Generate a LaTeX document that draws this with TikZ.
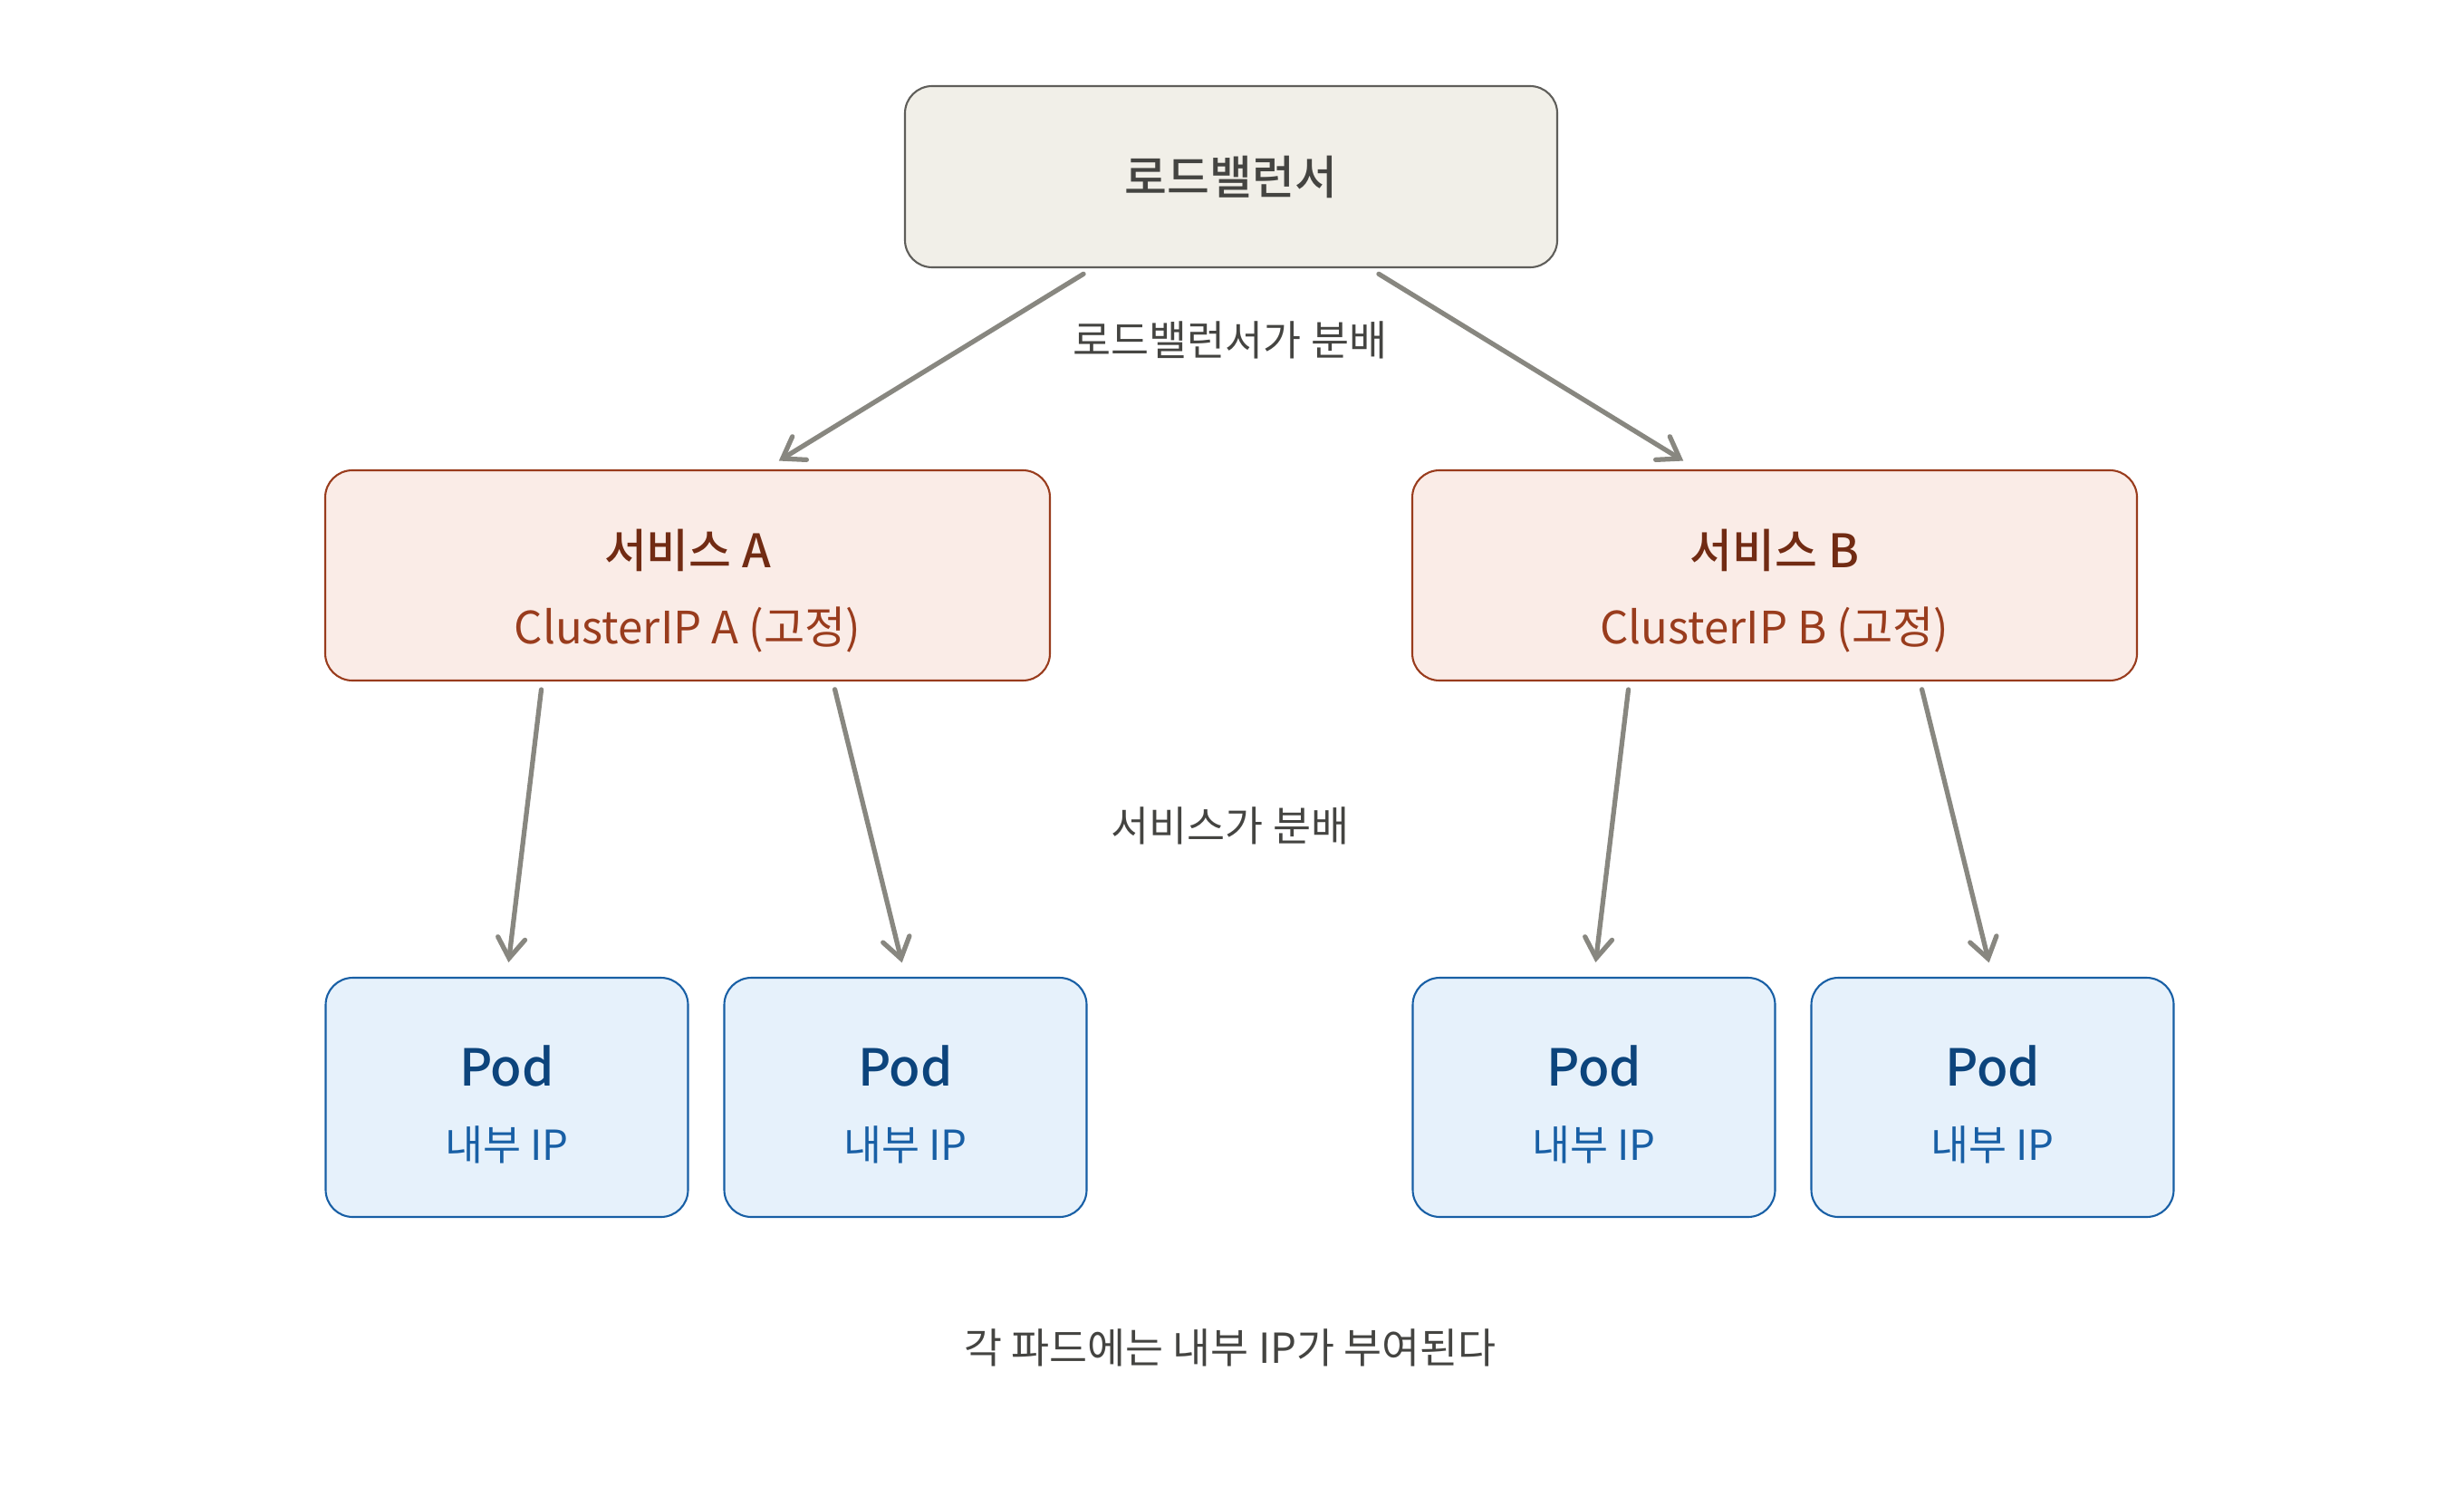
\documentclass[tikz,border=0pt]{standalone}
\usepackage{fontspec}
\setmainfont{Noto Sans CJK KR}[BoldFont={Noto Sans CJK KR Medium}]
\usetikzlibrary{arrows.meta,calc,positioning}
\definecolor{lbfill}{HTML}{F1EFE8}
\definecolor{lbline}{HTML}{5F5E5A}
\definecolor{lbtext}{HTML}{444441}
\definecolor{svcfill}{HTML}{FAECE7}
\definecolor{svcline}{HTML}{993C1D}
\definecolor{svctext}{HTML}{712B13}
\definecolor{podfill}{HTML}{E6F1FB}
\definecolor{podline}{HTML}{185FA5}
\definecolor{podtext}{HTML}{0C447C}
\definecolor{flowgray}{HTML}{888780}

\begin{document}
\begin{tikzpicture}[
    box/.style={rounded corners=0.3cm, line width=0.6pt},
    lbbox/.style={box, draw=lbline, fill=lbfill, minimum width=7.2cm, minimum height=2cm},
    svcbox/.style={box, draw=svcline, fill=svcfill, minimum width=8cm, minimum height=2.32cm},
    podbox/.style={box, draw=podline, fill=podfill, minimum width=4cm, minimum height=2.64cm},
    flow/.style={draw=flowgray, line width=1.5pt, line cap=round, -{Straight Barb[length=2.2mm,width=3mm,line cap=round]}},
    lbl/.style={text=lbtext, font=\fontsize{13}{15}\selectfont},
  ]
  \useasboundingbox (0,0) rectangle (27.2,-16.4);
  \def\svcy{-6.35}
  \def\pody{-12.11}

  \node[lbbox] (lb) at (13.59,-1.95) {};
  \node[text=lbtext, font=\fontsize{14.5}{16}\selectfont\bfseries] (lbt) at (lb.center) {로드밸런서};

  \node[svcbox] (sa) at (7.59,\svcy) {};
  \node[svcbox] (sb) at (19.59,\svcy) {};
  \node[text=svctext, font=\fontsize{14.5}{16}\selectfont\bfseries] (sat) at ([yshift=0.28cm]sa.center) {서비스 A};
  \node[text=svcline, font=\fontsize{14}{16}\selectfont] (sas) at ([yshift=-0.6cm]sa.center) {ClusterIP A (고정)};
  \node[text=svctext, font=\fontsize{14.5}{16}\selectfont\bfseries] (sbt) at ([yshift=0.28cm]sb.center) {서비스 B};
  \node[text=svcline, font=\fontsize{14}{16}\selectfont] (sbs) at ([yshift=-0.6cm]sb.center) {ClusterIP B (고정)};

  \foreach \name/\x in {pa1/5.595, pa2/9.995, pb1/17.595, pb2/21.995} {
    \node[podbox] (\name) at (\x,\pody) {};
    \node[text=podtext, font=\fontsize{16}{18}\selectfont\bfseries] (\name t) at ([yshift=0.35cm]\name.center) {Pod};
    \node[text=podline, font=\fontsize{13}{15}\selectfont] (\name s) at ([yshift=-0.52cm]\name.center) {내부 IP};
  }

  \draw[flow, shorten <=0.12cm, shorten >=0.18cm] ($(lb.south west)!0.2885!(lb.south east)$) -- ($(sa.north west)!0.6065!(sa.north east)$);
  \draw[flow, shorten <=0.12cm, shorten >=0.18cm] ($(lb.south west)!0.7115!(lb.south east)$) -- ($(sb.north west)!0.3935!(sb.north east)$);
  \node[lbl] (lbflow) at (13.58,-3.75) {로드밸런서가 분배};

  \draw[flow, shorten <=0.09cm, shorten >=0.16cm] ($(sa.south west)!0.3!(sa.south east)$) -- (pa1.north);
  \draw[flow, shorten <=0.09cm, shorten >=0.16cm] ($(sa.south west)!0.7!(sa.south east)$) -- (pa2.north);
  \draw[flow, shorten <=0.09cm, shorten >=0.16cm] ($(sb.south west)!0.3!(sb.south east)$) -- (pb1.north);
  \draw[flow, shorten <=0.09cm, shorten >=0.16cm] ($(sb.south west)!0.7!(sb.south east)$) -- (pb2.north);
  \node[lbl] (svcflow) at (13.58,-9.11) {서비스가 분배};

  \node[lbl] (note) at (13.58,-14.87) {각 파드에는 내부 IP가 부여된다};
\end{tikzpicture}
\end{document}
